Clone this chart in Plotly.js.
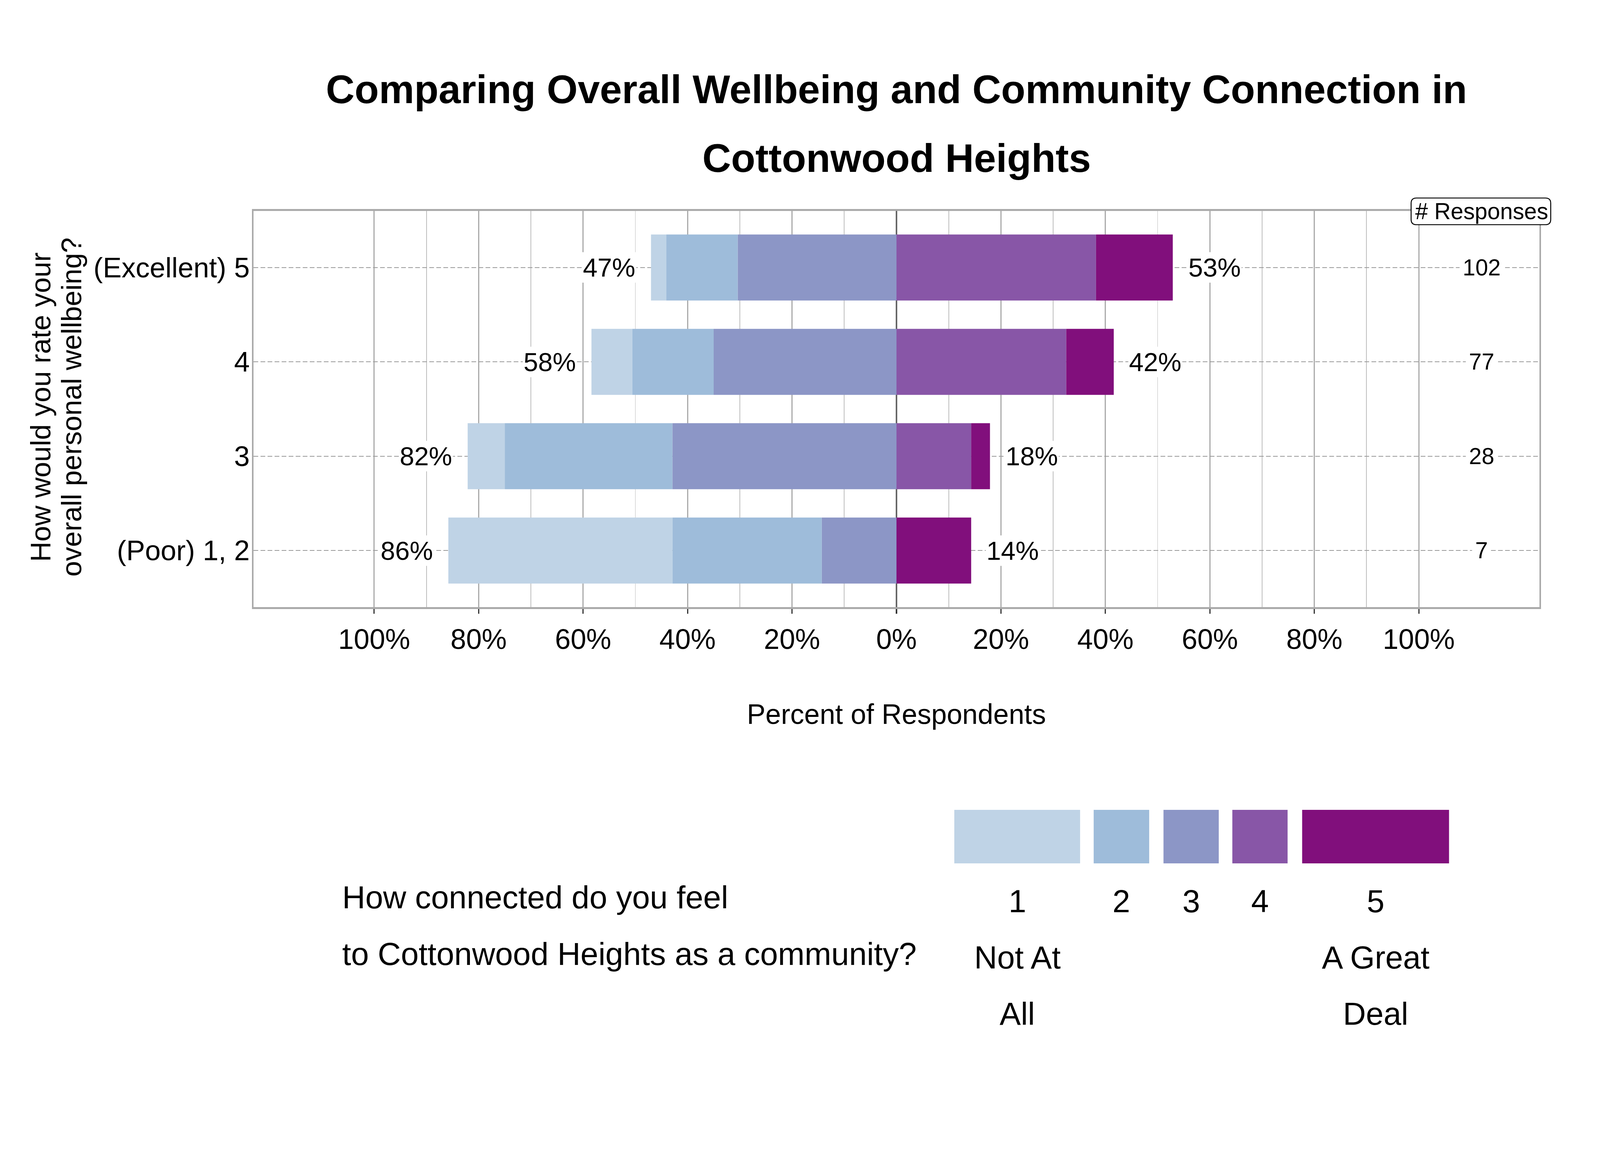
<!DOCTYPE html>
<html>
<head>
<meta charset="utf-8">
<script src="https://cdn.plot.ly/plotly-3.0.1.min.js"></script>
<style>html,body{margin:0;padding:0;background:#ffffff;overflow:hidden;}</style>
</head>
<body>
<div id="chart"></div>
<script>
// ---------------- DATA ----------------
const wellbeing = ['(Poor) 1, 2', '3', '4', '(Excellent) 5'];
const responses = [7, 28, 77, 102];
// percent of respondents per connection level (1 = Not At All ... 5 = A Great Deal)
const pct1 = [42.9, 7.1, 7.8, 2.9];
const pct2 = [28.6, 32.1, 15.6, 13.7];
const pct3 = [14.3, 42.9, 35.0, 30.4];
const pct4 = [0.0, 14.3, 32.5, 38.2];
const pct5 = [14.3, 3.6, 9.1, 14.7];
const levelNames = ['1', '2', '3', '4', '5'];
const levelDesc2 = ['Not At', '', '', '', 'A Great'];
const levelDesc3 = ['All', '', '', '', 'Deal'];
const xTickVals = [-100, -80, -60, -40, -20, 0, 20, 40, 60, 80, 100];
const xTickText = ['100%', '80%', '60%', '40%', '20%', '0%', '20%', '40%', '60%', '80%', '100%'];
const xMinorVals = [-90, -70, -50, -30, -10, 10, 30, 50, 70, 90];
const titleLines = ['Comparing Overall Wellbeing and Community Connection in', 'Cottonwood Heights'];
const yTitleLines = ['How would you rate your', 'overall personal wellbeing?'];
const legendTitleLines = ['How connected do you feel', 'to Cottonwood Heights as a community?'];
const xTitle = 'Percent of Respondents';
const countHeader = '# Responses';

// ---------------- SIZE (design is 6600x3000; adapt to the real window) ----------------
const REF_W = 6600, REF_H = 3000;
const VW = window.innerWidth || REF_W, VH = window.innerHeight || REF_H;
const sx = VW / REF_W, sy = VH / REF_H, sf = Math.min(sx, sy);
const chartDiv = document.getElementById('chart');
chartDiv.style.width = VW + 'px';
chartDiv.style.height = VH + 'px';

// ---------------- STYLE / LAYOUT CONSTANTS (reference pixels) ----------------
const colors = ['#bfd3e6', '#9ebcda', '#8c96c6', '#8856a7', '#810f7c'];
const FONT = 'Liberation Sans, Arial, Helvetica, sans-serif';
const L = 1046, R = 6351, T = 540, B = 1554;
const PW = R - L, PH = B - T;
const X = p => (p - L) / PW;     // reference pixel -> paper x
const Y = p => (B - p) / PH;     // reference pixel -> paper y
const fs = v => v * sf;          // font / stroke scaling
const countX = 112;              // data x of the "# Responses" column

// legend key boxes (reference pixel extents)
const keyX = [[3937, 4456], [4512, 4741], [4800, 5028], [5084, 5312], [5372, 5978]];
const keyY = [2073, 2210];
const legLineY = [2306, 2450, 2594];

// ---------------- TRACES ----------------
const neg = a => a.map(v => -v);
const seriesOrder = [
  {vals: neg(pct3), c: 2},
  {vals: neg(pct2), c: 1},
  {vals: neg(pct1), c: 0},
  {vals: pct4, c: 3},
  {vals: pct5, c: 4}
];
const traces = seriesOrder.map(s => ({
  type: 'bar', orientation: 'h',
  x: s.vals, y: wellbeing,
  name: levelNames[s.c],
  marker: {color: colors[s.c], line: {width: 0}},
  hoverinfo: 'skip', showlegend: false
}));

// ---------------- ANNOTATIONS ----------------
const ann = [];
const leftSum = wellbeing.map((_, i) => pct1[i] + pct2[i] + pct3[i]);
const rightSum = wellbeing.map((_, i) => pct4[i] + pct5[i]);
wellbeing.forEach((cat, i) => {
  // category index i as y (names such as '3' would be read as indices)
  ann.push({x: -leftSum[i], y: i, xref: 'x', yref: 'y', text: Math.round(leftSum[i]) + '%',
    xanchor: 'right', yanchor: 'middle', xshift: -60 * sx, showarrow: false,
    bgcolor: '#ffffff', borderpad: fs(2), font: {family: FONT, size: fs(108), color: '#000'}});
  ann.push({x: rightSum[i], y: i, xref: 'x', yref: 'y', text: Math.round(rightSum[i]) + '%',
    xanchor: 'left', yanchor: 'middle', xshift: 60 * sx, showarrow: false,
    bgcolor: '#ffffff', borderpad: fs(2), font: {family: FONT, size: fs(108), color: '#000'}});
  ann.push({x: countX, y: i, xref: 'x', yref: 'y', text: String(responses[i]),
    xanchor: 'center', yanchor: 'middle', showarrow: false,
    bgcolor: '#ffffff', borderpad: fs(12), font: {family: FONT, size: fs(94), color: '#000'}});
});
ann.push({x: countX, y: 1, xref: 'x', yref: 'paper', text: countHeader, showarrow: false,
  xanchor: 'center', yanchor: 'middle', font: {family: FONT, size: fs(94), color: '#000'}});
ann.push({x: 0.5, y: Y(405), xref: 'paper', yref: 'paper', text: titleLines[1], showarrow: false,
  xanchor: 'center', yanchor: 'middle', font: {family: FONT, size: fs(164), color: '#000', weight: 'bold'}});
[168, 295].forEach((px, k) => {
  ann.push({x: X(px), y: Y(1042), xref: 'paper', yref: 'paper', text: yTitleLines[k], textangle: -90,
    showarrow: false, xanchor: 'center', yanchor: 'middle', font: {family: FONT, size: fs(116), color: '#000'}});
});
ann.push({x: 0.5, y: Y(1828), xref: 'paper', yref: 'paper', text: xTitle, showarrow: false,
  xanchor: 'center', yanchor: 'middle', font: {family: FONT, size: fs(115), color: '#000'}});
[2296, 2441].forEach((py, k) => {
  ann.push({x: X(1409), y: Y(py), xref: 'paper', yref: 'paper', text: legendTitleLines[k], showarrow: false,
    xanchor: 'left', yanchor: 'middle', font: {family: FONT, size: fs(132), color: '#000'}});
});
const legRows = [levelNames, levelDesc2, levelDesc3];
levelNames.forEach((_, j) => {
  const cx = (keyX[j][0] + keyX[j][1]) / 2;
  legRows.forEach((row, r) => {
    if (!row[j]) return;
    ann.push({x: X(cx), y: Y(legLineY[r]), xref: 'paper', yref: 'paper', text: row[j], showarrow: false,
      xanchor: 'center', yanchor: 'middle', font: {family: FONT, size: fs(131), color: '#000'}});
  });
});

// ---------------- SHAPES ----------------
const shapes = [];
levelNames.forEach((_, j) => {
  shapes.push({type: 'rect', xref: 'paper', yref: 'paper',
    x0: X(keyX[j][0]), x1: X(keyX[j][1]), y0: Y(keyY[1]), y1: Y(keyY[0]),
    fillcolor: colors[j], line: {width: 0}, layer: 'above'});
});
// rounded header box around "# Responses" (sized with the text)
function roundRect(cx, cy, hw, hh, r) {
  const rx = r / sx, ry = r / sy;
  const x0 = cx - hw / sx, x1 = cx + hw / sx, y0 = cy - hh / sy, y1 = cy + hh / sy;
  const f = (px, py) => X(px).toFixed(6) + ',' + Y(py).toFixed(6);
  return 'M ' + f(x0 + rx, y0) + ' L ' + f(x1 - rx, y0) + ' Q ' + f(x1, y0) + ' ' + f(x1, y0 + ry) +
    ' L ' + f(x1, y1 - ry) + ' Q ' + f(x1, y1) + ' ' + f(x1 - rx, y1) +
    ' L ' + f(x0 + rx, y1) + ' Q ' + f(x0, y1) + ' ' + f(x0, y1 - ry) +
    ' L ' + f(x0, y0 + ry) + ' Q ' + f(x0, y0) + ' ' + f(x0 + rx, y0) + ' Z';
}
shapes.push({type: 'path', xref: 'paper', yref: 'paper',
  path: roundRect(6109.5, 541, fs(288), fs(55), fs(22)),
  fillcolor: '#ffffff', line: {color: '#000000', width: fs(4)}, layer: 'above'});

// ---------------- LAYOUT ----------------
const layout = {
  width: VW, height: VH,
  paper_bgcolor: '#ffffff', plot_bgcolor: '#ffffff',
  margin: {l: L * sx, r: (REF_W - R) * sx, t: T * sy, b: (REF_H - B) * sy, pad: 0},
  barmode: 'relative', bargap: 0.3,
  hovermode: false,
  showlegend: false,
  font: {family: FONT, color: '#000'},
  title: {text: titleLines[0], x: 0.5, xref: 'paper', xanchor: 'center',
    y: 1 - 228 / REF_H, yref: 'container', yanchor: 'middle',
    font: {family: FONT, size: fs(164), color: '#000', weight: 'bold'}},
  xaxis: {
    range: [-123.1, 123.1], fixedrange: true,
    tickmode: 'array', tickvals: xTickVals, ticktext: xTickText,
    tickfont: {family: FONT, size: fs(116), color: '#000'},
    ticks: 'outside', ticklen: fs(20), tickwidth: fs(5), tickcolor: '#333333',
    ticklabelstandoff: Math.round(3 * sy),
    showgrid: true, gridcolor: '#aaaaaa', gridwidth: fs(5),
    minor: {tickmode: 'array', tickvals: xMinorVals, showgrid: true, gridcolor: '#bdbdbd', gridwidth: fs(3), ticks: ''},
    zeroline: true, zerolinecolor: '#666666', zerolinewidth: fs(7),
    showline: true, linecolor: '#aaaaaa', linewidth: fs(8), mirror: true,
    automargin: false
  },
  yaxis: {
    type: 'category', categoryorder: 'array', categoryarray: wellbeing,
    range: [-0.6, 3.6], fixedrange: true,
    tickfont: {family: FONT, size: fs(116), color: '#000'},
    ticks: '', ticklabelstandoff: Math.round(-14 * sx),
    showgrid: true, gridcolor: '#9a9a9a', gridwidth: fs(3),
    griddash: fs(19).toFixed(1) + 'px,' + fs(10).toFixed(1) + 'px',
    zeroline: false,
    showline: true, linecolor: '#aaaaaa', linewidth: fs(7), mirror: true,
    automargin: false
  },
  annotations: ann,
  shapes: shapes
};

Plotly.newPlot('chart', traces, layout, {displayModeBar: false, staticPlot: true});
</script>
</body>
</html>
